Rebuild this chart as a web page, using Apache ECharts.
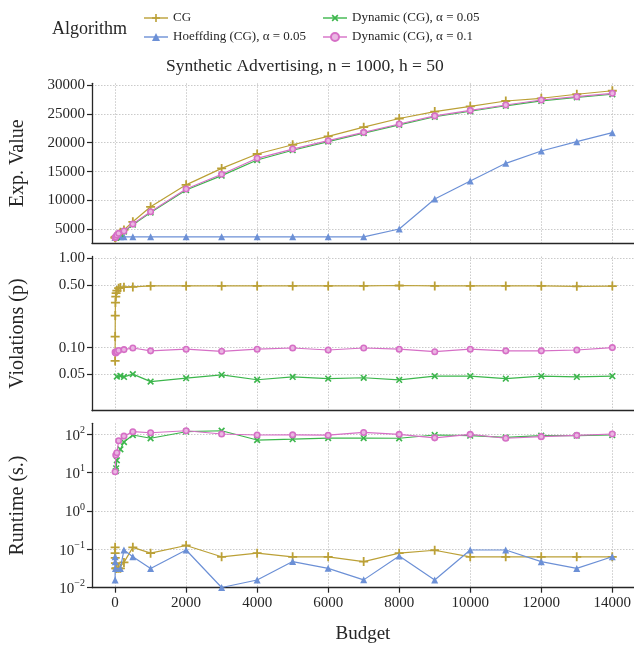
<!DOCTYPE html>
<html><head><meta charset="utf-8">
<script src="https://cdn.jsdelivr.net/npm/echarts@6/dist/echarts.min.js"></script>
<style>html,body{margin:0;padding:0;background:#fff}#c{width:634px;height:646px}</style>
</head><body><div id="c"></div>
<script>
const N = null;
const budgets = [1,2,5,10,20,30,50,100,150,250,500,1000,2000,3000,4000,5000,6000,7000,8000,9000,10000,11000,12000,13000,14000];
const seriesNames = ['CG','Hoeffding (CG), α = 0.05','Dynamic (CG), α = 0.05','Dynamic (CG), α = 0.1'];
const xTicks = [0,2000,4000,6000,8000,10000,12000,14000];
const expTicks = [5000,10000,15000,20000,25000,30000];
const violTicks = [0.05,0.1,0.5,1];
const runTicks = [0.01,0.1,1,10,100];

// Exp. Value
const expCG     = [3550,3580,3600,3650,3700,3750,3800,4150,4500,4900,6300,8900,12700,15550,18050,19650,21100,22700,24200,25400,26300,27230,27700,28400,29000];
const expHoeff  = [3600,3650,3680,3700,N,N,N,N,3700,3700,3700,3700,3700,3700,3700,3700,3700,3700,5050,10250,13370,16430,18560,20180,21740];
const expDyn05  = [N,N,N,N,3550,3600,3650,N,4200,4600,5800,7900,11800,14300,17000,18700,20200,21650,23100,24500,25450,26400,27250,27850,28400];
const expDyn10  = [3550,N,N,N,3700,N,4000,4300,N,4700,5900,8050,11980,14530,17300,18900,20350,21800,23250,24650,25600,26535,27400,27970,28560];
// Violations (p)
const violCG    = [0.071,0.133,0.228,0.319,0.372,0.406,0.434,0.462,0.47,0.474,0.477,0.49,0.49,0.49,0.49,0.49,0.49,0.49,0.495,0.49,0.49,0.49,0.49,0.485,0.488];
const violHoeff = [N,N,N,N,N,N,N,N,N,N,N,N,N,N,N,N,N,N,N,N,N,N,N,N,N];
const violDyn05 = [N,N,N,N,N,N,0.0474,N,0.0484,0.047,0.0505,0.0417,0.0455,0.0496,0.0437,0.047,0.045,0.046,0.0435,0.048,0.048,0.045,0.048,0.047,0.048];
const violDyn10 = [0.089,N,N,N,0.087,N,0.090,0.093,N,0.095,0.099,0.092,0.096,0.091,0.096,0.099,0.094,0.099,0.096,0.09,0.096,0.092,0.092,0.094,0.1];
// Runtime (s.)
const runCG     = [0.113,0.08,0.06,0.044,0.032,0.032,0.032,0.032,0.032,0.0457,0.113,0.0795,0.126,0.064,0.0795,0.064,0.064,0.048,0.0795,0.0948,0.064,0.064,0.064,0.064,0.064];
const runHoeff  = [0.0159,0.064,0.0478,0.0318,N,N,N,N,0.0318,0.0963,0.064,0.0318,0.0963,0.0101,0.0159,0.048,0.032,0.016,0.067,0.0159,0.0963,0.0963,0.0478,0.0318,0.064];
const runDyn05  = [N,N,N,N,11,13,21,N,40.6,63,96,79,117,124,71,75,80,80,79,96,92,83,92,92,96];
const runDyn10  = [10.6,N,N,N,28.8,N,33,68,N,90,117,110,124,102,96,97,95,112,100,81,100,79,87,94,102];

const colors = ['#bba036','#6c90d6','#3cb64c','#d66fc6'];
const PLUS = 'path://M4,0H6V4H10V6H6V10H4V6H0V4H4Z';
const symbolCfg = [
  {symbol: PLUS, symbolSize: 9, symbolRotate: 0, itemStyle: {color: colors[0]}},
  {symbol: 'triangle', symbolSize: 7, symbolRotate: 0, itemStyle: {color: colors[1]}},
  {symbol: PLUS, symbolSize: 8, symbolRotate: 45, itemStyle: {color: colors[2]}},
  {symbol: 'circle', symbolSize: 5.5, symbolRotate: 0, itemStyle: {color: '#eab6e2', borderColor: colors[3], borderWidth: 1.6}}
];
const FONT = 'Liberation Serif';
const TXT = '#262626';

function pairs(arr){ return budgets.map((b,i)=>[b,arr[i]]).filter(p=>p[1]!=null); }

const panels = [
  [expCG, expHoeff, expDyn05, expDyn10],
  [violCG, violHoeff, violDyn05, violDyn10],
  [runCG, runHoeff, runDyn05, runDyn10]
];

const grids = [
  {left: 92, top: 83.3, width: 542, height: 160},
  {left: 92, top: 256.5, width: 542, height: 154.2},
  {left: 92, top: 423.3, width: 542, height: 164.4}
];

const splitStyle = {show: true, lineStyle: {color: '#c4c4c4', width: 0.9, type: [1.5, 1.5]}};
const axisLineStyle = {show: true, onZero: false, lineStyle: {color: TXT, width: 1.3}};

const xAxes = grids.map((g,i)=>({
  type: 'value', gridIndex: i, min: -650, max: 14610,
  axisLine: axisLineStyle,
  axisTick: {show: i===2, length: 5, customValues: xTicks, lineStyle: {color: TXT, width: 1.2}},
  axisLabel: {show: i===2, customValues: xTicks, fontFamily: FONT, fontSize: 15, color: TXT, margin: 8,
    formatter: v => String(v)},
  splitLine: splitStyle,
  name: i===2 ? 'Budget' : '', nameLocation: 'middle', nameGap: 37,
  nameTextStyle: {fontFamily: FONT, fontSize: 19, color: TXT}
}));

const supMap = {'-2':'−2','-1':'−1','0':'0','1':'1','2':'2'};
const yAxes = [
  {type: 'value', gridIndex: 0, min: 2575, max: 30295,
   axisTick: {show: true, length: 5, customValues: expTicks, lineStyle: {color: TXT, width: 1.2}},
   axisLabel: {customValues: expTicks, fontFamily: FONT, fontSize: 15, color: TXT, margin: 7,
     formatter: v => String(v)},
   name: 'Exp. Value'},
  {type: 'log', gridIndex: 1, min: 0.0197, max: 1.045,
   axisTick: {show: true, length: 5, customValues: violTicks, lineStyle: {color: TXT, width: 1.2}},
   axisLabel: {customValues: violTicks, fontFamily: FONT, fontSize: 15, color: TXT, margin: 7,
     formatter: v => Number(v).toFixed(2)},
   name: 'Violations (p)'},
  {type: 'log', gridIndex: 2, min: 0.01, max: 194,
   axisTick: {show: true, length: 5, customValues: runTicks, lineStyle: {color: TXT, width: 1.2}},
   axisLabel: {customValues: runTicks, fontFamily: FONT, fontSize: 15, color: TXT, margin: 7,
     formatter: v => { const e = Math.round(Math.log10(v)); return '{b|10}{s|' + supMap[String(e)] + '}'; },
     rich: {b: {fontFamily: FONT, fontSize: 15, color: TXT, verticalAlign: 'bottom', lineHeight: 18},
            s: {fontFamily: FONT, fontSize: 10, color: TXT, verticalAlign: 'top', lineHeight: 18, padding: [0,0,6,0]}}},
   name: 'Runtime (s.)'}
].map(a => Object.assign({
  axisLine: axisLineStyle,
  splitLine: splitStyle,
  nameLocation: 'middle', nameGap: 64,
  nameTextStyle: {fontFamily: FONT, fontSize: 20, color: TXT}
}, a));

const series = [];
panels.forEach((arrs, pi) => {
  arrs.forEach((arr, si) => {
    series.push(Object.assign({
      type: 'line', name: seriesNames[si], xAxisIndex: pi, yAxisIndex: pi,
      data: pairs(arr),
      lineStyle: {color: colors[si], width: 1.2},
      showAllSymbol: true, z: 2 + si
    }, JSON.parse(JSON.stringify(symbolCfg[si]))));
  });
});

const legendBase = {
  orient: 'vertical', itemWidth: 24, itemHeight: 10, itemGap: 5,
  lineStyle: {opacity: 0.7},
  textStyle: {fontFamily: FONT, fontSize: 13, color: TXT, lineHeight: 14, padding: [0,0,0,0]}
};

const chart = echarts.init(document.getElementById('c'), null, {renderer: 'canvas'});
chart.setOption({
  animation: false,
  backgroundColor: '#fff',
  title: [
    {text: 'Synthetic Advertising, n = 1000, h = 50', left: 161, top: 52,
     textStyle: {fontFamily: FONT, fontSize: 17.5, fontWeight: 'normal', color: TXT}},
    {text: 'Algorithm', left: 47, top: 15,
     textStyle: {fontFamily: FONT, fontSize: 18, fontWeight: 'normal', color: TXT}}
  ],
  legend: [
    Object.assign({}, legendBase, {left: 138, top: 6, data: [seriesNames[0], seriesNames[1]]}),
    Object.assign({}, legendBase, {left: 317, top: 6, data: [seriesNames[2], seriesNames[3]]})
  ],
  grid: grids,
  xAxis: xAxes,
  yAxis: yAxes,
  series: series
});
</script>
</body></html>
